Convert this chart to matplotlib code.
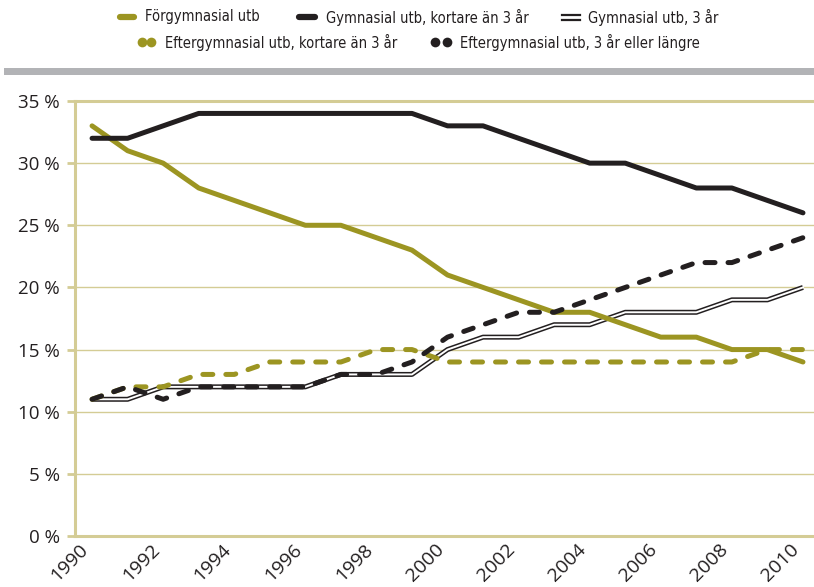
import matplotlib
matplotlib.use("Agg")
import matplotlib.pyplot as plt
from matplotlib.lines import Line2D
from matplotlib.patches import Rectangle

OLIVE = "#9c9522"
BLACK = "#231f20"
KHAKI = "#d4cc95"
BAR_GREY = "#b2b3b6"

years = list(range(1990, 2011))

forgymnasial = [33, 31, 30, 28, 27, 26, 25, 25, 24, 23, 21,
                20, 19, 18, 18, 17, 16, 16, 15, 15, 14]
gymn_kort = [32, 32, 33, 34, 34, 34, 34, 34, 34, 34, 33,
             33, 32, 31, 30, 30, 29, 28, 28, 27, 26]
gymn_3ar = [11, 11, 12, 12, 12, 12, 12, 13, 13, 13, 15,
            16, 16, 17, 17, 18, 18, 18, 19, 19, 20]
efter_kort = [11, 12, 12, 13, 13, 14, 14, 14, 15, 15, 14,
              14, 14, 14, 14, 14, 14, 14, 14, 15, 15]
efter_lang = [11, 12, 11, 12, 12, 12, 12, 13, 13, 14, 16,
              17, 18, 18, 19, 20, 21, 22, 22, 23, 24]

labels = ["Förgymnasial utb", "Gymnasial utb, kortare än 3 år",
          "Gymnasial utb, 3 år", "Eftergymnasial utb, kortare än 3 år",
          "Eftergymnasial utb, 3 år eller längre"]

yticks = [0, 5, 10, 15, 20, 25, 30, 35]
xticks = list(range(1990, 2011, 2))

LW = 3.6
DASH = (2.0, 2.6)
tick_font = ["Open Sans", "DejaVu Sans"]

fig = plt.figure(figsize=(8.14, 5.87), dpi=100)
ax = fig.add_axes([75 / 814, 51 / 587, 1 - 75 / 814, 435 / 587])

ax.set_xlim(1989.52, 2010.31)
ax.set_ylim(0, 35)

# gridlines (35 % drawn heavier, like the axis lines)
for v in yticks[1:-1]:
    ax.axhline(v, color=KHAKI, lw=1.0, zorder=1)
ax.axhline(35, color=KHAKI, lw=2.2, zorder=1, clip_on=False)

# series
ax.plot(years, gymn_3ar, color=BLACK, lw=LW, solid_joinstyle="round",
        solid_capstyle="butt", zorder=3)
ax.plot(years, gymn_3ar, color="white", lw=1.4, solid_joinstyle="round",
        zorder=3.1)
ax.plot(years, efter_kort, color=OLIVE, lw=LW, linestyle=(0, DASH),
        dash_capstyle="round", dash_joinstyle="round", zorder=4)
ax.plot(years, forgymnasial, color=OLIVE, lw=LW, solid_joinstyle="round",
        solid_capstyle="round", zorder=5)
ax.plot(years, efter_lang, color=BLACK, lw=LW, linestyle=(0, DASH),
        dash_capstyle="round", dash_joinstyle="round", zorder=6)
ax.plot(years, gymn_kort, color=BLACK, lw=LW, solid_joinstyle="round",
        solid_capstyle="round", zorder=7)

for side in ("top", "right"):
    ax.spines[side].set_visible(False)
for side in ("left", "bottom"):
    ax.spines[side].set_color(KHAKI)
    ax.spines[side].set_linewidth(2.2)

ax.set_yticks(yticks)
ax.set_yticklabels([f"{v} %" for v in yticks], family=tick_font,
                   fontsize=13.5, color=BLACK)
ax.tick_params(axis="y", direction="out", length=6, width=2.0,
               color=KHAKI, pad=5)
ax.set_xticks(xticks)
ax.set_xticklabels([str(v) for v in xticks], family=tick_font,
                   fontsize=14, color=BLACK, rotation=45, ha="right")
ax.tick_params(axis="x", length=0, pad=3)

# grey band under the legend
fig.add_artist(Rectangle((4 / 814, 1 - 75 / 587), 1, 7 / 587,
                         transform=fig.transFigure, color=BAR_GREY, lw=0))


def px(x, y):
    return x / 814, 1 - y / 587


def handle(x0, x1, y, kind, color):
    xa, ya = px(x0, y)
    xb, _ = px(x1, y)
    if kind == "solid":
        xa, _ = px(x0 + 3, y)
        xb, _ = px(x1 - 3, y)
        fig.add_artist(Line2D([xa, xb], [ya, ya], color=color, lw=4.5,
                              solid_capstyle="round",
                              transform=fig.transFigure))
    elif kind == "double":
        for dy in (-2.5, 2.5):
            _, yy = px(x0, y + dy)
            fig.add_artist(Line2D([xa, xb], [yy, yy], color=color, lw=1.6,
                                  transform=fig.transFigure))
    else:
        for xc in (x0 + 5, x1 - 5):
            xd, _ = px(xc, y)
            fig.add_artist(Line2D([xd], [ya], marker="o", ms=7,
                                  color=color, mec="none", ls="none",
                                  transform=fig.transFigure))


legend_items = [
    (117, 137, 17, "solid", OLIVE, 145, labels[0]),
    (296, 318, 17, "solid", BLACK, 326, labels[1]),
    (562, 580, 17, "double", BLACK, 588, labels[2]),
    (137, 156, 42, "dots", OLIVE, 165, labels[3]),
    (430, 452, 42, "dots", BLACK, 460, labels[4]),
]
for x0, x1, hy, kind, col, tx, lab in legend_items:
    handle(x0, x1, hy, kind, col)
    fig.text(*px(tx, hy), lab, family="DejaVu Sans", fontstretch="condensed",
             fontsize=10.5, color=BLACK, va="center", ha="left")

fig.savefig("out.png", dpi=100)
